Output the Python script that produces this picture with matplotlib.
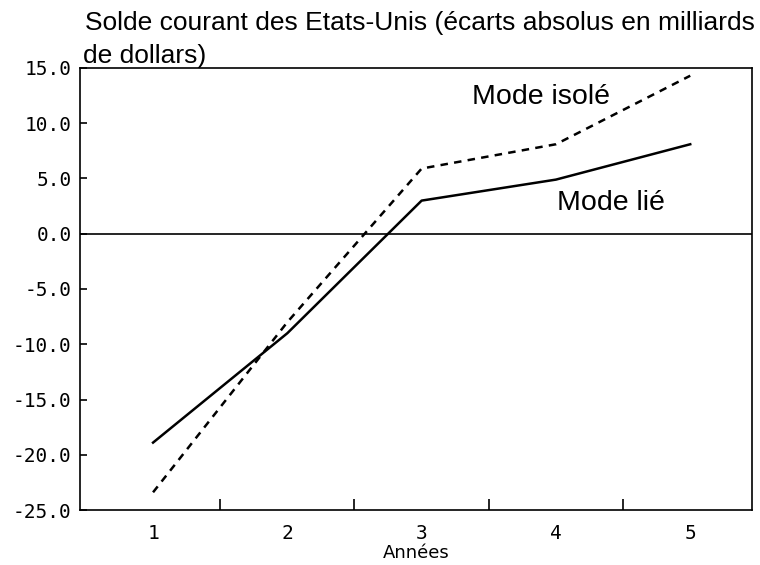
import numpy as np
import matplotlib.pyplot as plt
from matplotlib.ticker import FixedLocator, NullFormatter

annees = [1, 2, 3, 4, 5]
mode_lie = [-18.9, -9.0, 3.0, 4.9, 8.1]
mode_isole = [-23.4, -8.0, 5.9, 8.1, 14.3]
y_ticks = [15.0, 10.0, 5.0, 0.0, -5.0, -10.0, -15.0, -20.0, -25.0]


def main():
    fig = plt.figure(figsize=(7.6, 5.65), dpi=100)
    ax = fig.add_axes([80 / 760, 1 - 510 / 565, 672 / 760, 442 / 565])

    ax.plot(annees, mode_lie, color='black', lw=1.8)
    ax.plot(annees, mode_isole, color='black', lw=1.8, linestyle=(0, (3, 2.5)))
    ax.axhline(0, color='black', lw=1.2)

    ax.set_xlim(0.456, 5.46)
    ax.set_ylim(-25, 15)

    ax.set_yticks(y_ticks)
    ax.set_yticklabels(['%.1f' % v for v in y_ticks], family='DejaVu Sans Mono', fontsize=14)
    ax.tick_params(axis='y', direction='in', length=5, width=1.2, pad=6)

    ax.set_xticks(annees)
    ax.set_xticklabels([str(a) for a in annees], family='DejaVu Sans Mono', fontsize=14)
    ax.tick_params(axis='x', which='major', length=0, pad=10)
    ax.xaxis.set_minor_locator(FixedLocator([1.5, 2.5, 3.5, 4.5]))
    ax.xaxis.set_minor_formatter(NullFormatter())
    ax.tick_params(axis='x', which='minor', direction='in', length=8, width=1.2)

    for s in ax.spines.values():
        s.set_linewidth(1.2)

    ax.set_xlabel('Années', family='Liberation Sans Narrow', fontsize=13, labelpad=1)

    ax.text(3.89, 12.4, 'Mode isolé', family='Liberation Sans', fontsize=20.5, ha='center', va='center')
    ax.text(4.41, 2.8, 'Mode lié', family='Liberation Sans', fontsize=20.5, ha='center', va='center')

    fig.text(85 / 760, 1 - 30 / 565, 'Solde courant des Etats-Unis (écarts absolus en milliards',
             family='Liberation Sans', fontsize=19, ha='left', va='baseline')
    fig.text(83 / 760, 1 - 63 / 565, 'de dollars)',
             family='Liberation Sans', fontsize=19, ha='left', va='baseline')

    plt.savefig('out.png')


if __name__ == '__main__':
    main()
